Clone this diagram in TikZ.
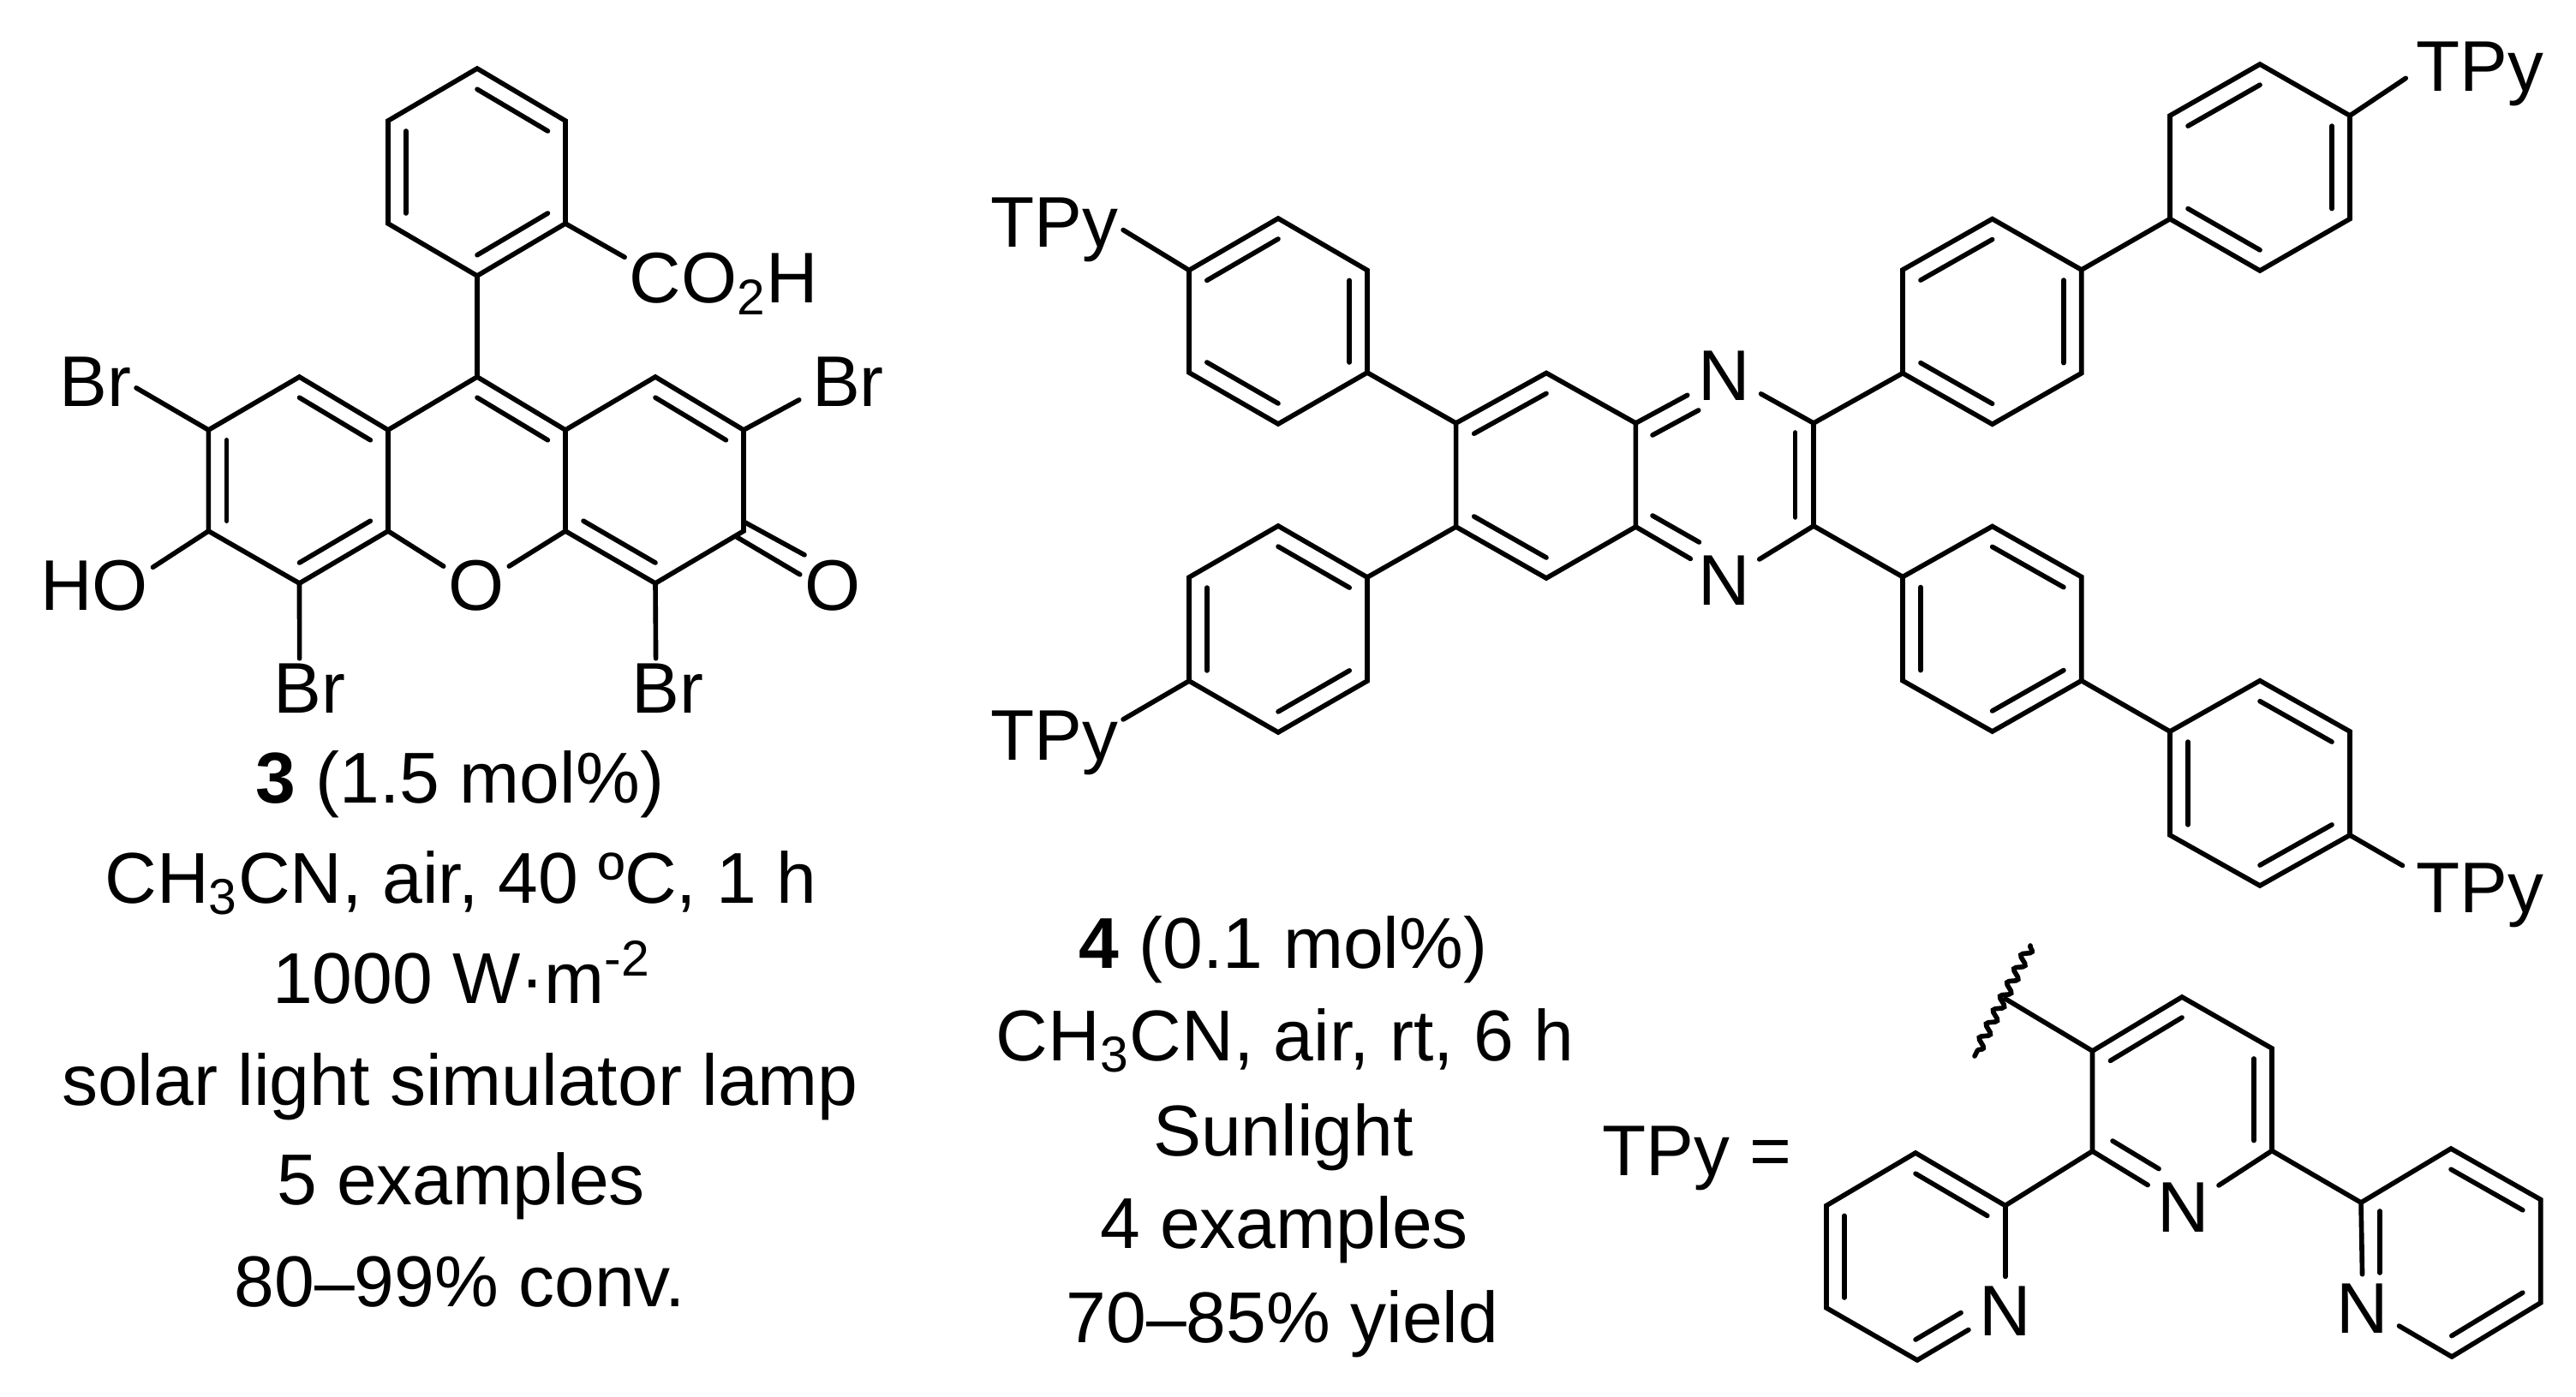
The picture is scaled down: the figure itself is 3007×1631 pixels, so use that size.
\documentclass[tikz,border=0pt]{standalone}
\usepackage{fontspec}
\setmainfont{Liberation Sans}
\usetikzlibrary{calc,decorations.pathmorphing}
\tikzset{
    bond/.style={line width=1.6pt,line cap=round,line join=miter},
    wavy/.style={line width=1.6pt,line cap=round,decorate,decoration={snake,amplitude=0.5mm,segment length=1.8mm}},
    atom/.style={anchor=base,inner sep=0.5mm,font=\fontsize{23.8}{28}\selectfont},
    cond/.style={anchor=base,inner sep=0pt,font=\fontsize{23.9}{28}\selectfont}
}
% inner line of a double bond: end atom, ring centre, end atom
\newcommand{\innerbond}[3]{\draw[bond] ($(#1)!0.2!(#2)$) -- ($(#3)!0.2!(#2)$);}

\begin{document}
\begin{tikzpicture}[x=0.01cm,y=-0.01cm]
    \useasboundingbox (0,0) rectangle (3007,1631);

    % Atoms of 3
    \foreach \n/\x/\y in {ph1/557/80,ph2/660/141,ph3/660/261,ph4/557/322,ph5/453/261,ph6/453/141,phc/557/201,
        m1/557/440,m2/660/502,m3/660/620,m5/453/620,m6/453/502,mc/557/561,
        l1/349.5/440,l4/349.5/681,l5/243.4/620,l6/243.4/502,lc/349.5/561,
        r1/765/440,r2/868/502,r3/868/620,r4/765/681,rc/765/561,
        co1/868/609,co2/860/627}
        \coordinate (\n) at (\x,\y);

    % Labels of 3
    \node[atom] (acid) at (845,354) {CO\textsubscript{2}H};
    \node[atom] (brul) at (111.5,475) {Br};
    \node[atom] (brur) at (990,475) {Br};
    \node[atom] (hydroxy) at (110,712) {HO};
    \node[atom] (oxy) at (556,712) {O};
    \node[atom] (keto) at (972,712) {O};
    \node[atom] (brll) at (361.5,832) {Br};
    \node[atom] (brlr) at (779.5,832) {Br};

    % Draw 3
    \draw[bond] (ph1) -- (ph2) -- (ph3) -- (ph4) -- (ph5) -- (ph6) -- cycle;
    \draw[bond] (ph4) -- (m1);
    \draw[bond] (ph3) -- (acid.165);
    \draw[bond] (m6) -- (l1) -- (l6) -- (l5) -- (l4) -- (m5) -- (m6) -- (m1) -- (m2) -- (r1) -- (r2) -- (r3) -- (r4) -- (m3) -- (m2);
    \draw[bond] (m5) -- (oxy.150);
    \draw[bond] (m3) -- (oxy.30);
    \draw[bond] (l6) -- (brul.-8);
    \draw[bond,shorten >=1.1mm] (r2) -- (brur.198);
    \draw[bond] (l5) -- (hydroxy.17);
    \draw[bond] (co1) -- (keto.133);
    \draw[bond] (co2) -- (keto.162);
    \draw[bond] (l4) -- (brll.109);
    \draw[bond] (r4) -- (brlr.112);
    \innerbond{ph1}{phc}{ph2}
    \innerbond{ph3}{phc}{ph4}
    \innerbond{ph5}{phc}{ph6}
    \innerbond{l1}{lc}{m6}
    \innerbond{l6}{lc}{l5}
    \innerbond{l4}{lc}{m5}
    \innerbond{m1}{mc}{m2}
    \innerbond{r1}{rc}{r2}
    \innerbond{m3}{rc}{r4}

    % Text under 3
    \node[cond] (cat3) at (537,937) {\textbf{3} (1.5 mol\%)};
    \node[cond] (solv3) at (538,1054) {CH\textsubscript{3}CN, air, 40 ºC, 1 h};
    \node[cond] (flux3) at (539,1171) {1000 W·m\textsuperscript{-2}};
    \node[cond] (lamp3) at (537,1290) {solar light simulator lamp};
    \node[cond] (scope3) at (538,1406) {5 examples};
    \node[cond] (conv3) at (537,1525) {80–99\% conv.};

    % Atoms of 4
    \foreach \n/\x/\y in {a1/1492/255,a2/1596/315.5,a3/1596/435,a4/1492/495,a5/1388/435,a6/1388/315.5,ac/1492/375,
        b1/1492/614,b2/1596/674,b3/1596/795,b4/1492/855,b5/1388/795,b6/1388/674,bc/1492/734.5,
        q1/1805/435.5,q2/1909.4/494,q3/1909.4/615,q4/1805/675,q5/1699.6/615,q6/1699.6/494,qc/1805/555,
        z1/2117/494,z2/2117/614,zi1/2095.6/505,zi2/2095.6/604,
        c1/2325.6/255.6,c2/2429.7/315,c3/2429.7/435.7,c4/2325.6/495.3,c5/2221/435.7,c6/2221/315,cc/2325.6/375.5,
        d1/2638/75,d2/2743/135,d3/2743/255.6,d4/2638/316,d5/2533/255.6,d6/2533/135,dc/2638/195.5,
        e1/2325.6/614.5,e2/2429.7/673.5,e3/2429.7/794.7,e4/2325.6/854,e5/2221/794.7,e6/2221/673.5,ec/2325.6/734,
        f1/2638/794.7,f2/2743/854,f3/2743/975,f4/2638/1034,f5/2533/975,f6/2533/854,fc/2638/914.5,
        nui1/1929/508,nui2/1982.7/479,nli1/1929/602,nli2/1983.4/633}
        \coordinate (\n) at (\x,\y);

    % Labels of 4
    \node[atom] (tpyul) at (1231,288.6) {TPy};
    \node[atom] (tpyll) at (1231,887.6) {TPy};
    \node[atom] (tpyur) at (2895,107) {TPy};
    \node[atom] (tpylr) at (2895,1065.8) {TPy};
    \node[atom] (nup) at (2012.7,468) {N};
    \node[atom] (nlow) at (2012.7,706.5) {N};

    % Draw 4
    \draw[bond] (a1) -- (a2) -- (a3) -- (a4) -- (a5) -- (a6) -- cycle;
    \draw[bond] (b1) -- (b2) -- (b3) -- (b4) -- (b5) -- (b6) -- cycle;
    \draw[bond] (q1) -- (q2) -- (q3) -- (q4) -- (q5) -- (q6) -- cycle;
    \draw[bond] (c1) -- (c2) -- (c3) -- (c4) -- (c5) -- (c6) -- cycle;
    \draw[bond] (d1) -- (d2) -- (d3) -- (d4) -- (d5) -- (d6) -- cycle;
    \draw[bond] (e1) -- (e2) -- (e3) -- (e4) -- (e5) -- (e6) -- cycle;
    \draw[bond] (f1) -- (f2) -- (f3) -- (f4) -- (f5) -- (f6) -- cycle;
    \draw[bond] (a3) -- (q6);
    \draw[bond] (b2) -- (q5);
    \draw[bond] (z1) -- (z2);
    \draw[bond] (z1) -- (c5);
    \draw[bond] (z2) -- (e6);
    \draw[bond] (c2) -- (d5);
    \draw[bond] (e3) -- (f6);
    \draw[bond] (a6) -- (tpyul.east);
    \draw[bond] (b5) -- (tpyll.19);
    \draw[bond,shorten >=0.8mm] (d2) -- (tpyur.west);
    \draw[bond,shorten >=1.2mm] (f3) -- (tpylr.160);
    \draw[bond,shorten >=0.8mm] (q2) -- (nup.207);
    \draw[bond,shorten >=0.8mm] (z1) -- (nup.-25);
    \draw[bond,shorten >=0.4mm] (q3) -- (nlow.147);
    \draw[bond,shorten >=0.6mm] (z2) -- (nlow.31);
    \draw[bond] (nui1) -- (nui2);
    \draw[bond] (nli1) -- (nli2);
    \draw[bond] (zi1) -- (zi2);
    \innerbond{a6}{ac}{a1}
    \innerbond{a2}{ac}{a3}
    \innerbond{a4}{ac}{a5}
    \innerbond{b1}{bc}{b2}
    \innerbond{b3}{bc}{b4}
    \innerbond{b5}{bc}{b6}
    \innerbond{q6}{qc}{q1}
    \innerbond{q4}{qc}{q5}
    \innerbond{c6}{cc}{c1}
    \innerbond{c2}{cc}{c3}
    \innerbond{c4}{cc}{c5}
    \innerbond{d6}{dc}{d1}
    \innerbond{d2}{dc}{d3}
    \innerbond{d4}{dc}{d5}
    \innerbond{e1}{ec}{e2}
    \innerbond{e3}{ec}{e4}
    \innerbond{e5}{ec}{e6}
    \innerbond{f1}{fc}{f2}
    \innerbond{f3}{fc}{f4}
    \innerbond{f5}{fc}{f6}

    % Text under 4
    \node[cond] (cat4) at (1498,1130) {\textbf{4} (0.1 mol\%)};
    \node[cond] (solv4) at (1500,1238) {CH\textsubscript{3}CN, air, rt, 6 h};
    \node[cond] (light4) at (1498,1349.5) {Sunlight};
    \node[cond] (scope4) at (1499,1457.6) {4 examples};
    \node[cond] (yield4) at (1497,1567) {70–85\% yield};

    % Atoms of TPy
    \foreach \n/\x/\y in {p1/2547/1164,p2/2652/1224,p3/2652/1343.5,p5/2442.5/1344,p6/2442.5/1227,pc/2547/1284,
        s1/2340.7/1407.5,s2/2236/1346,s3/2132/1407.5,s4/2132/1527,s5/2238/1588,sc/2236/1467,
        t1/2756/1404,t2/2861/1341,t3/2965.7/1400.5,t4/2965.7/1521,t5/2862/1584,tc/2861/1462,
        wig/2340.7/1166,wig1/2370/1104,wig2/2305/1233,
        npi1/2466/1332,npi2/2520/1364.6,nsi1/2236/1564,nsi2/2289/1532.6,nti1/2778/1414,nti2/2778/1486}
        \coordinate (\n) at (\x,\y);

    % Labels of TPy
    \node[atom,anchor=base west,inner sep=0pt] (tpyeq) at (1870,1372.7) {TPy =};
    \node[atom] (npy) at (2549,1438.4) {N};
    \node[atom] (nls) at (2340.7,1559.7) {N};
    \node[atom] (nrs) at (2757.6,1556) {N};

    % Draw TPy
    \draw[bond] (wig) -- (p6) -- (p1) -- (p2) -- (p3) -- (t1) -- (t2) -- (t3) -- (t4) -- (t5);
    \draw[bond] (p6) -- (p5) -- (s1) -- (s2) -- (s3) -- (s4) -- (s5);
    \draw[wavy] (wig1) -- (wig2);
    \draw[bond,shorten >=0.7mm] (p5) -- (npy.148);
    \draw[bond,shorten >=0.6mm] (p3) -- (npy.32);
    \draw[bond,shorten >=0.6mm] (s1) -- (nls.north);
    \draw[bond,shorten >=0.8mm] (s5) -- (nls.206);
    \draw[bond,shorten >=0.5mm] (t1) -- (nrs.north);
    \draw[bond,shorten >=0.8mm] (t5) -- (nrs.-25);
    \draw[bond] (npi1) -- (npi2);
    \draw[bond] (nsi1) -- (nsi2);
    \draw[bond] (nti1) -- (nti2);
    \innerbond{p6}{pc}{p1}
    \innerbond{p2}{pc}{p3}
    \innerbond{s2}{sc}{s1}
    \innerbond{s3}{sc}{s4}
    \innerbond{t2}{tc}{t3}
    \innerbond{t4}{tc}{t5}
\end{tikzpicture}
\end{document}
